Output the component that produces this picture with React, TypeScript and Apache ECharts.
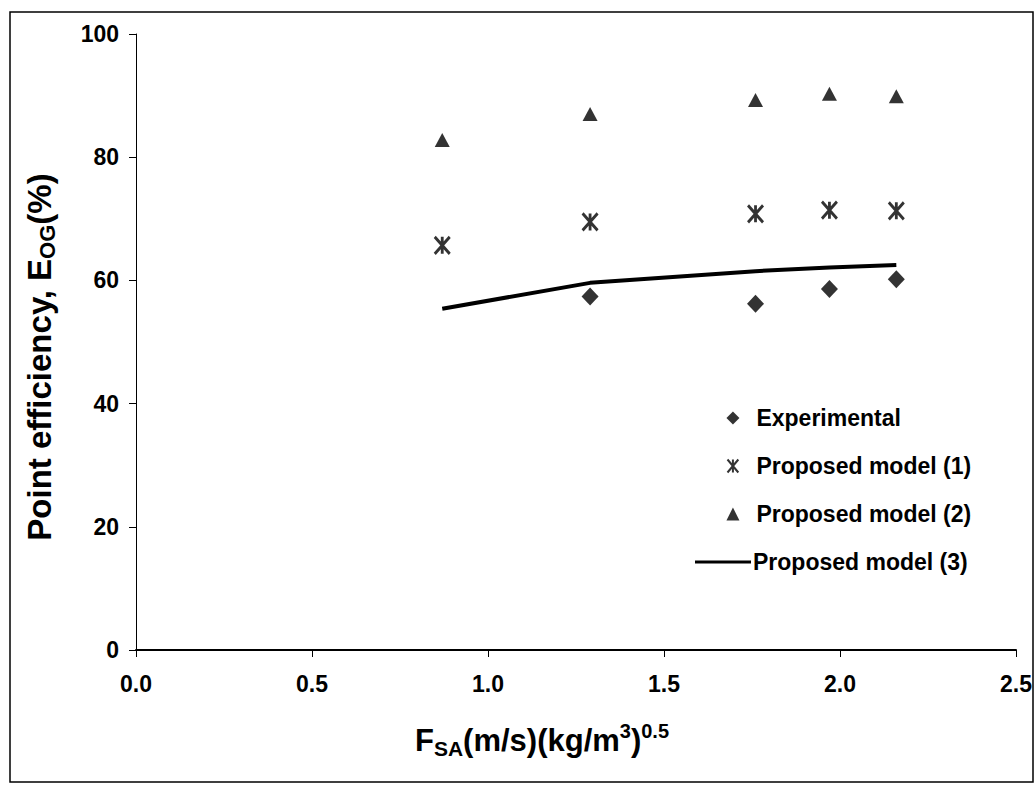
import React, { useEffect, useRef } from "react";
import * as echarts from "echarts";

const xValues = [0.87, 1.29, 1.76, 1.97, 2.16];
const expX = [1.29, 1.76, 1.97, 2.16];
const experimental = [57.4, 56.2, 58.6, 60.2];
const model1 = [65.7, 69.5, 70.8, 71.4, 71.3];
const model2 = [82.8, 87.0, 89.3, 90.3, 89.9];
const model3 = [55.4, 59.6, 61.5, 62.1, 62.5];

const names = ["Experimental", "Proposed model (1)", "Proposed model (2)", "Proposed model (3)"];

const FONT = "'Liberation Sans', Arial, sans-serif";
const ASTERISK = "path://M0,0L10,12M10,0L0,12M5,0L5,12";
const LINE_ICON = "path://M0,0H56V3H0Z";

export default function App() {
  const ref = useRef<HTMLDivElement>(null);
  useEffect(() => {
    if (!ref.current) return;
    const chart = echarts.init(ref.current, null, { renderer: "svg" });
    const pair = (xs: number[], ys: number[]) => xs.map((x, i) => [x, ys[i]]);
    const legendText = { fontSize: 23, fontWeight: "bold", color: "#000", fontFamily: FONT, lineHeight: 24 };
    chart.setOption({
      animation: false,
      backgroundColor: "#fff",
      textStyle: { fontFamily: FONT },
      grid: { left: 136, right: 20, top: 34, bottom: 136, outerBoundsMode: "none", containLabel: false },
      xAxis: {
        type: "value",
        min: 0,
        max: 2.5,
        interval: 0.5,
        splitLine: { show: false },
        axisLine: { lineStyle: { color: "#000", width: 2 } },
        axisTick: { show: true, length: 7, lineStyle: { color: "#000", width: 1 } },
        axisLabel: {
          margin: 22,
          color: "#000",
          fontSize: 23,
          fontWeight: "bold",
          fontFamily: FONT,
          formatter: (v: number) => v.toFixed(1),
        },
        name: "{b|F}{sub|SA}{b|(m/s)(kg/m}{sup|3}{b|)}{sup|0.5}",
        nameLocation: "middle",
        nameGap: 71,
        nameTextStyle: {
          padding: [0, 68, 0, 0],
          rich: {
            b: { fontSize: 31, fontWeight: "bold", color: "#000", lineHeight: 38, fontFamily: FONT },
            sub: { fontSize: 21, fontWeight: "bold", color: "#000", lineHeight: 33, verticalAlign: "bottom", fontFamily: FONT },
            sup: { fontSize: 20, fontWeight: "bold", color: "#000", lineHeight: 12, verticalAlign: "top", fontFamily: FONT },
          },
        },
      },
      yAxis: {
        type: "value",
        min: 0,
        max: 100,
        interval: 20,
        splitLine: { show: false },
        axisLine: { show: true, lineStyle: { color: "#000", width: 1 } },
        axisTick: { show: true, length: 7, lineStyle: { color: "#000", width: 1 } },
        axisLabel: {
          margin: 17,
          color: "#000",
          fontSize: 23,
          fontWeight: "bold",
          fontFamily: FONT,
        },
        name: "{b|Point efficiency, E}{sub|OG}{b|(%)}",
        nameLocation: "middle",
        nameGap: 78,
        nameTextStyle: {
          padding: [0, 30, 0, 0],
          rich: {
            b: { fontSize: 33, fontWeight: "bold", color: "#000", lineHeight: 38, fontFamily: FONT },
            sub: { fontSize: 22, fontWeight: "bold", color: "#000", lineHeight: 25, verticalAlign: "bottom", fontFamily: FONT },
          },
        },
      },
      legend: [
        {
          data: names.slice(0, 3),
          orient: "vertical",
          left: 720,
          top: 401,
          itemWidth: 13,
          itemHeight: 13,
          itemGap: 24,
          selectedMode: false,
          textStyle: { ...legendText, padding: [0, 0, 0, 12] },
        },
        {
          data: [{ name: names[3], icon: LINE_ICON }],
          orient: "vertical",
          left: 690,
          top: 545,
          itemWidth: 56,
          itemHeight: 3,
          selectedMode: false,
          itemStyle: { color: "#000", borderWidth: 0 },
          textStyle: { ...legendText, padding: [0, 0, 0, -3] },
        },
      ],
      graphic: [
        {
          type: "rect",
          shape: { x: 10, y: 12, width: 1023, height: 770 },
          style: { fill: "none", stroke: "#000", lineWidth: 1.5 },
          silent: true,
        },
      ],
      series: [
        {
          name: names[0],
          type: "scatter",
          symbol: "diamond",
          symbolSize: [17, 18],
          itemStyle: { color: "#000" },
          data: pair(expX, experimental),
        },
        {
          name: names[1],
          type: "scatter",
          symbol: ASTERISK,
          symbolSize: [15, 17],
          itemStyle: { color: "none", borderColor: "#000", borderWidth: 3 },
          data: pair(xValues, model1),
        },
        {
          name: names[2],
          type: "scatter",
          symbol: "triangle",
          symbolSize: [15, 14],
          itemStyle: { color: "#000" },
          data: pair(xValues, model2),
        },
        {
          name: names[3],
          type: "line",
          symbol: "none",
          lineStyle: { color: "#000", width: 4 },
          itemStyle: { color: "#000" },
          data: pair(xValues, model3),
        },
      ],
    });
    return () => chart.dispose();
  }, []);
  return (
    <div
      ref={ref}
      style={{ position: "fixed", left: 0, top: 0, width: 1036, height: 786, background: "#fff" }}
    />
  );
}
